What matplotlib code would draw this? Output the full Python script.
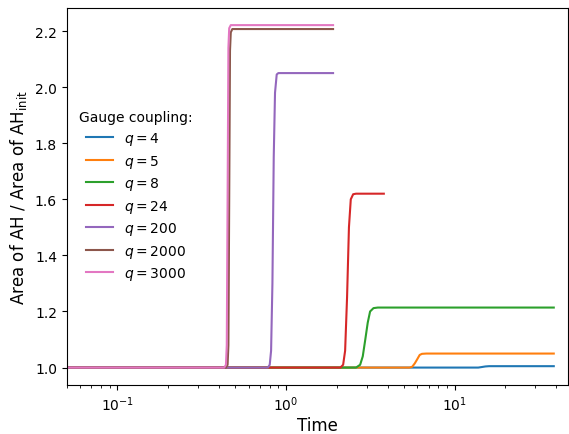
import matplotlib
matplotlib.use("Agg")
import matplotlib.pyplot as plt

labels = ["$q = 4$", "$q = 5$", "$q = 8$", "$q = 24$", "$q = 200$", "$q = 2000$", "$q = 3000$"]

t_q4 = [0.04, 13.8, 14.5, 15.2, 16.0, 38.7]
v_q4 = [1.0, 1.0, 1.002, 1.004, 1.005, 1.005]

t_q5 = [0.04, 5.4, 5.6, 5.8, 6.0, 6.2, 6.4, 6.8, 38.7]
v_q5 = [1.0, 1.0, 1.003, 1.015, 1.03, 1.045, 1.049, 1.05, 1.05]

t_q8 = [0.04, 2.6, 2.75, 2.85, 2.95, 3.05, 3.15, 3.3, 3.5, 38.7]
v_q8 = [1.0, 1.0, 1.01, 1.04, 1.1, 1.16, 1.2, 1.212, 1.214, 1.214]

t_q24 = [0.04, 2.1, 2.18, 2.24, 2.3, 2.36, 2.42, 2.5, 2.6, 3.8]
v_q24 = [1.0, 1.0, 1.01, 1.06, 1.25, 1.5, 1.6, 1.618, 1.62, 1.62]

t_q200 = [0.04, 0.78, 0.80, 0.815, 0.83, 0.845, 0.86, 0.88, 0.90, 1.9]
v_q200 = [1.0, 1.0, 1.01, 1.06, 1.3, 1.75, 1.98, 2.045, 2.05, 2.05]

t_q2000 = [0.04, 0.44, 0.45, 0.455, 0.46, 0.465, 0.47, 0.48, 1.9]
v_q2000 = [1.0, 1.0, 1.01, 1.08, 1.6, 2.13, 2.195, 2.207, 2.207]

t_q3000 = [0.04, 0.43, 0.44, 0.445, 0.45, 0.455, 0.46, 0.47, 1.9]
v_q3000 = [1.0, 1.0, 1.01, 1.08, 1.6, 2.14, 2.21, 2.221, 2.221]

series = [(t_q4, v_q4), (t_q5, v_q5), (t_q8, v_q8), (t_q24, v_q24),
          (t_q200, v_q200), (t_q2000, v_q2000), (t_q3000, v_q3000)]

fig = plt.figure(figsize=(5.69, 4.35), dpi=100)
ax = fig.add_axes([66.7/569, 1 - 385.7/435, (568 - 66.7)/569, (385.7 - 9)/435])

for (t, v), lab in zip(series, labels):
    ax.plot(t, v, label=lab, lw=1.5)

ax.set_xscale("log")
ax.set_xlim(0.05, 47)
ax.set_xlabel("Time", fontsize=12, labelpad=2)
ax.set_ylabel(r"Area of AH / Area of AH$_\mathrm{init}$", fontsize=12)
ax.tick_params(labelsize=10)
ax.legend(title="Gauge coupling:", loc="center left", frameon=False, fontsize=10,
          title_fontsize=10, labelspacing=0.4)

fig.savefig("out.png", dpi=100)
